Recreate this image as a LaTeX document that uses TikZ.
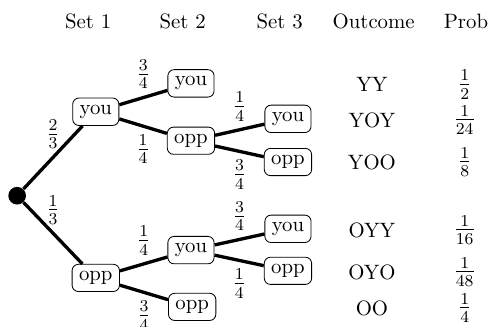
\documentclass[tikz,border=0pt]{standalone}
\usepackage{amsmath}
\begin{document}
\begin{tikzpicture}[
    player/.style={draw,rounded corners=3pt},
    branch/.style={ultra thick},
    start/.style={circle,fill,inner sep=0pt,minimum size=8.5pt},
    wt/.style={font=\large},
  ]
    \useasboundingbox (0,0) rectangle (8.27,5.53);

    \node (h1) at (1.49,5.16) {Set 1};
    \node (h2) at (3.09,5.16) {Set 2};
    \node (h3) at (4.73,5.16) {Set 3};
    \node (h4) at (6.32,5.16) {Outcome};
    \node (h5) at (7.88,5.16) {Prob};

    \node[start] (root) at (0.29,2.22) {};
    \node[player] (you1) at (1.62,3.64) {you};
    \node[player] (opp1) at (1.62,0.83) {opp};
    \node[player] (you2a) at (3.23,4.12) {you};
    \node[player] (opp2a) at (3.23,3.15) {opp};
    \node[player] (you2b) at (3.23,1.30) {you};
    \node[player] (opp2b) at (3.25,0.34) {opp};
    \node[player] (you3a) at (4.87,3.52) {you};
    \node[player] (opp3a) at (4.87,2.79) {opp};
    \node[player] (you3b) at (4.87,1.66) {you};
    \node[player] (opp3b) at (4.87,0.95) {opp};

    \draw[branch] (root) -- node[wt,above] {$\frac{2}{3}$} (you1);
    \draw[branch] (root) -- node[wt,above] {$\frac{1}{3}$} (opp1);
    \draw[branch] (you1) -- node[wt,above] {$\frac{3}{4}$} (you2a);
    \draw[branch] (you1) -- node[wt,below] {$\frac{1}{4}$} (opp2a);
    \draw[branch] (opp1) -- node[wt,above] {$\frac{1}{4}$} (you2b);
    \draw[branch] (opp1) -- node[wt,below] {$\frac{3}{4}$} (opp2b);
    \draw[branch] (opp2a) -- node[wt,above] {$\frac{1}{4}$} (you3a);
    \draw[branch] (opp2a) -- node[wt,below] {$\frac{3}{4}$} (opp3a);
    \draw[branch] (you2b) -- node[wt,above] {$\frac{3}{4}$} (you3b);
    \draw[branch] (you2b) -- node[wt,below] {$\frac{1}{4}$} (opp3b);

    \node (o1) at (6.29,4.10) {YY};
    \node (o2) at (6.29,3.50) {YOY};
    \node (o3) at (6.29,2.79) {YOO};
    \node (o4) at (6.29,1.64) {OYY};
    \node (o5) at (6.29,0.93) {OYO};
    \node (o6) at (6.29,0.32) {OO};

    \node[wt] (p1) at (7.86,4.10) {$\frac{1}{2}$};
    \node[wt] (p2) at (7.86,3.50) {$\frac{1}{24}$};
    \node[wt] (p3) at (7.86,2.79) {$\frac{1}{8}$};
    \node[wt] (p4) at (7.86,1.64) {$\frac{1}{16}$};
    \node[wt] (p5) at (7.86,0.93) {$\frac{1}{48}$};
    \node[wt] (p6) at (7.86,0.32) {$\frac{1}{4}$};
  \end{tikzpicture}
\end{document}
